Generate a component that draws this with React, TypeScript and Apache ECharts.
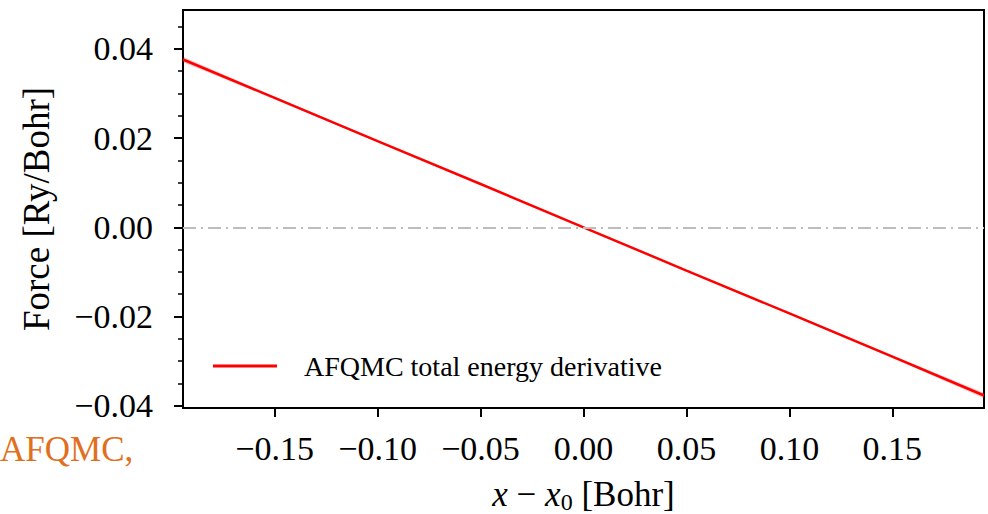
import React, { useEffect, useRef } from 'react';
import * as echarts from 'echarts';

const xValues = [-0.1945, -0.15, -0.1, -0.05, 0.0, 0.05, 0.1, 0.15, 0.1945];
const forceValues = [0.0376, 0.029, 0.0193, 0.0097, 0.0, -0.0097, -0.0193, -0.029, -0.0377];
const bandLower = [0.037, 0.0287, 0.0191, 0.0096, -0.0001, -0.0098, -0.0195, -0.0293, -0.0383];
const bandUpper = [0.0382, 0.0293, 0.0195, 0.0098, 0.0001, -0.0096, -0.0191, -0.0287, -0.0371];
const xTicks = [-0.15, -0.1, -0.05, 0, 0.05, 0.1, 0.15];
const yTicks = [-0.04, -0.02, 0, 0.02, 0.04];
const yMinorTicks = [-0.035, -0.03, -0.025, -0.015, -0.01, -0.005, 0.005, 0.01, 0.015, 0.025, 0.03, 0.035, 0.045];
const seriesName = 'AFQMC total energy derivative';

const FONT = "'Liberation Serif', 'DejaVu Serif', serif";
const fmt = (v: number) => v.toFixed(2).replace('-', '\u2212');

export default function App() {
  const ref = useRef<HTMLDivElement>(null);
  useEffect(() => {
    if (!ref.current) return;
    const chart = echarts.init(ref.current, undefined, { renderer: 'svg' });
    const xMin = -0.1945, xMax = 0.1945, yMin = -0.0405, yMax = 0.0487;
    const lineData = xValues.map((x, i) => [x, forceValues[i]]);
    chart.setOption({
      animation: false,
      backgroundColor: '#ffffff',
      grid: {
        left: 183, right: 4, top: 10, bottom: 106,
        outerBoundsMode: 'none', containLabel: false,
        show: true, borderColor: '#000', borderWidth: 2, backgroundColor: 'transparent',
      },
      legend: {
        data: [{ name: seriesName }],
        left: 208, top: 347,
        icon: 'rect', itemWidth: 64, itemHeight: 3,
        textStyle: { fontFamily: FONT, fontSize: 28, color: '#000', padding: [0, 0, 0, 22] },
      },
      xAxis: {
        type: 'value', min: xMin, max: xMax,
        axisLine: { show: true, onZero: false, lineStyle: { color: '#000', width: 2 } },
        axisTick: { show: true, length: 9, customValues: xTicks, lineStyle: { color: '#000', width: 2 } },
        axisLabel: { customValues: xTicks, formatter: fmt, fontFamily: FONT, fontSize: 34, color: '#000', margin: 23 },
        splitLine: { show: false },
        name: '{i|x}{n| \u2212 }{i|x}{s|0}{n| [Bohr]}',
        nameLocation: 'middle', nameGap: 66,
        nameTextStyle: {
          rich: {
            i: { fontFamily: FONT, fontStyle: 'italic', fontSize: 35, color: '#000' },
            n: { fontFamily: FONT, fontSize: 35, color: '#000' },
            s: { fontFamily: FONT, fontSize: 24, color: '#000', verticalAlign: 'bottom', padding: [16, 0, 0, 0] },
          },
        },
      },
      yAxis: [
        {
          type: 'value', min: yMin, max: yMax,
          axisLine: { show: true, onZero: false, lineStyle: { color: '#000', width: 2 } },
          axisTick: { show: true, length: 9, customValues: yTicks, lineStyle: { color: '#000', width: 2 } },
          axisLabel: { customValues: yTicks, formatter: fmt, fontFamily: FONT, fontSize: 34, color: '#000', margin: 30 },
          splitLine: { show: false },
          name: 'Force [Ry/Bohr]', nameLocation: 'middle', nameGap: 128,
          nameTextStyle: { fontFamily: FONT, fontSize: 37, color: '#000' },
        },
        {
          type: 'value', min: yMin, max: yMax, position: 'left',
          axisLine: { show: false, onZero: false },
          axisTick: { show: true, length: 5, customValues: yMinorTicks, lineStyle: { color: '#000', width: 1.5 } },
          axisLabel: { show: false },
          splitLine: { show: false },
        },
      ],
      series: [
        {
          type: 'custom', name: 'band', silent: true, clip: true,
          data: [0],
          renderItem: (params: any, api: any) => {
            const pts: number[][] = [];
            xValues.forEach((x, i) => pts.push(api.coord([x, bandUpper[i]])));
            for (let i = xValues.length - 1; i >= 0; i--) pts.push(api.coord([xValues[i], bandLower[i]]));
            return { type: 'polygon', shape: { points: pts }, style: { fill: 'rgba(255,0,0,0.22)' } };
          },
          z: 1,
        },
        {
          type: 'line', name: seriesName, data: lineData, showSymbol: false,
          lineStyle: { color: '#ff0000', width: 2.5 }, itemStyle: { color: '#ff0000' },
          z: 3,
          markLine: {
            silent: true, symbol: 'none', label: { show: false },
            lineStyle: { color: '#bdbdbd', width: 2, type: [13, 5, 2, 5] },
            data: [{ yAxis: 0 }],
          },
        },
      ],
      graphic: [
        {
          type: 'text', left: 0, top: 432,
          style: { text: 'AFQMC,', fontFamily: FONT, fontSize: 35, fill: '#e07020' },
        },
      ],
    });
    return () => chart.dispose();
  }, []);
  return <div ref={ref} style={{ width: 988, height: 514, position: 'absolute', left: 0, top: 0 }} />;
}
